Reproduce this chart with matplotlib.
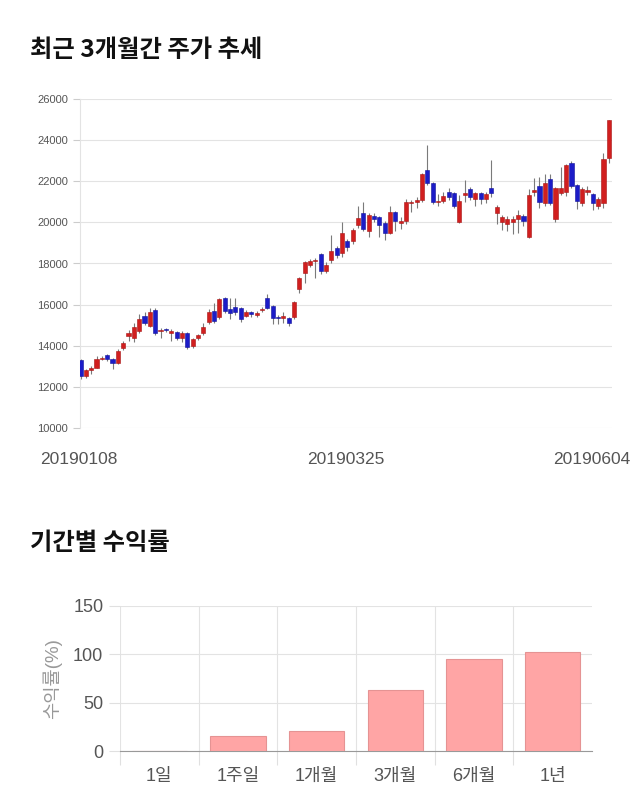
import numpy as np
import matplotlib
matplotlib.use("Agg")
import matplotlib.pyplot as plt

plt.rcParams['font.family'] = ['Liberation Sans', 'Noto Sans CJK KR', 'DejaVu Sans']

# daily candles, 2019-01-08 .. 2019-06-04
opens = [13300, 12550, 12800, 12900, 13350, 13550, 13350, 13150, 13900, 14450,
         14400, 14700, 15450, 14950, 15750, 14700, 14800, 14600, 14650, 14400,
         14600, 14000, 14400, 14600, 15150, 15700, 15400, 16300, 15800, 15900,
         15850, 15450, 15650, 15500, 15750, 16300, 15950, 15400, 15350, 15350,
         15400, 16750, 17550, 17950, 18100, 18450, 17650, 18150, 18750, 18500,
         19100, 19100, 19850, 20450, 19600, 20300, 20250, 19950, 19500, 20500,
         19950, 20050, 20950, 21000, 21100, 22550, 21900, 21000, 21050, 21500,
         21450, 20000, 21350, 21600, 21150, 21450, 21150, 21650, 20450, 20000,
         19900, 20000, 20150, 20300, 19300, 21500, 21750, 20950, 22100, 20150,
         21450, 21500, 22900, 21800, 20950, 21500, 21400, 20800, 20950, 23150]
closes = [12550, 12800, 12900, 13350, 13400, 13350, 13150, 13750, 14150, 14600,
          14900, 15300, 15100, 15650, 14600, 14750, 14750, 14700, 14400, 14600,
          13950, 14350, 14500, 14900, 15650, 15200, 16250, 15700, 15600, 15650,
          15300, 15650, 15550, 15600, 15800, 15850, 15350, 15350, 15450, 15100,
          16150, 17300, 18050, 18100, 18150, 17650, 17950, 18600, 18400, 19500,
          18800, 19650, 20200, 19700, 20350, 20150, 19850, 19500, 20500, 20050,
          20050, 21000, 21000, 21100, 22350, 21900, 21000, 21050, 21300, 21250,
          20800, 21050, 21400, 21250, 21450, 21150, 21400, 21450, 20750, 20250,
          20150, 20150, 20350, 20050, 21350, 21500, 21000, 21900, 20950, 21650,
          21650, 22800, 21750, 21050, 21600, 21500, 20950, 21150, 23100, 25000]
highs = [13350, 12850, 13000, 13500, 13500, 13600, 13400, 13850, 14250, 14750,
         15100, 15550, 15650, 15850, 15850, 14850, 14850, 14800, 14700, 14700,
         14650, 14400, 14550, 15100, 15800, 16100, 16300, 16350, 16300, 16300,
         15900, 15750, 15700, 15700, 15900, 16500, 16000, 15500, 15650, 15400,
         16200, 17350, 18100, 18200, 18250, 18500, 18050, 19400, 18850, 20000,
         19200, 19750, 20800, 21000, 20450, 20450, 20300, 20050, 20800, 20550,
         20250, 21150, 21100, 21250, 22400, 23750, 21950, 21400, 21500, 21650,
         21500, 21350, 22050, 21700, 21500, 21500, 21500, 23050, 20850, 20350,
         20300, 20300, 20600, 20400, 21600, 22150, 22200, 22350, 22350, 21700,
         22700, 22850, 23000, 21850, 21700, 21750, 21450, 21250, 23350, 25000]
lows = [12400, 12450, 12650, 12900, 13300, 13250, 12850, 13100, 13800, 14250,
        14200, 14600, 15000, 14900, 14500, 14400, 14650, 14250, 14300, 14200,
        13850, 13900, 14300, 14500, 15050, 15100, 15300, 15600, 15300, 15500,
        15150, 15400, 15400, 15400, 15650, 15800, 15050, 15050, 15100, 14950,
        15300, 16550, 17050, 17850, 17300, 17500, 17550, 18000, 18250, 18300,
        18600, 18950, 19750, 19600, 19300, 20000, 19300, 19150, 19450, 19600,
        19700, 19900, 20500, 20700, 21000, 21800, 20900, 20800, 20950, 21100,
        20700, 19950, 21000, 21100, 20800, 20900, 20950, 21250, 19900, 19650,
        19600, 19450, 19500, 19800, 19250, 21300, 20700, 20800, 20850, 20000,
        21350, 21300, 21650, 20650, 20800, 21350, 20600, 20650, 20700, 22900]
date_ticks = [0, 50, 99]
date_labels = ['20190108', '20190325', '20190604']

periods = ['1일', '1주일', '1개월', '3개월', '6개월', '1년']
returns = [0, 16, 20.5, 63, 95, 102]

fig = plt.figure(figsize=(6.4, 8.1), dpi=100)

# ---- titles
fig.text(30 / 640, 1 - 50 / 810, '최근 3개월간 주가 추세', fontsize=17.5, fontweight='bold',
         family=['Noto Sans CJK KR'], va='center', ha='left', color='#111111')
fig.text(30 / 640, 1 - 543 / 810, '기간별 수익률', fontsize=17.5, fontweight='bold',
         family=['Noto Sans CJK KR'], va='center', ha='left', color='#111111')

# ---- candlestick chart
ax = fig.add_axes([80 / 640, 1 - 428 / 810, 532 / 640, 329 / 810])
x = np.arange(len(opens))
o = np.array(opens, dtype=float)
c = np.array(closes, dtype=float)
up = c >= o
col = np.where(up, '#d11f1f', '#1c1cc8')
edge = np.where(up, '#a81515', '#12129a')
ax.vlines(x, lows, highs, color='#7a7a7a', lw=0.8, zorder=2)
body = np.maximum(np.abs(c - o), 60)
ax.bar(x, body, bottom=np.minimum(o, c), width=0.78, color=col, edgecolor=edge,
       linewidth=0.4, zorder=3)

ax.set_xlim(-0.1, 99.6)
ax.set_ylim(10000, 26000)
ax.set_yticks(np.arange(10000, 26001, 2000))
ax.tick_params(axis='y', labelsize=8, labelcolor='#555555', color='#cccccc', length=5, width=0.8)
ax.grid(axis='y', color='#e3e3e3', lw=0.8)
ax.set_axisbelow(True)
for s in ['top', 'right', 'bottom']:
    ax.spines[s].set_visible(False)
ax.spines['left'].set_color('#e3e3e3')
ax.set_xticks([])
for i, (t, lab) in enumerate(zip(date_ticks, date_labels)):
    if i == len(date_ticks) - 1:
        ax.annotate(lab, xy=(1.0, 0), xycoords='axes fraction', xytext=(18, -32),
                    textcoords='offset pixels', ha='right', va='center',
                    fontsize=12.5, color='#555555')
    else:
        ax.annotate(lab, xy=(t, 0), xycoords=('data', 'axes fraction'), xytext=(-2, -32),
                    textcoords='offset pixels', ha='center', va='center',
                    fontsize=12.5, color='#555555')

# ---- returns bar chart
bx = fig.add_axes([120 / 640, 1 - 751 / 810, 472 / 640, 145 / 810])
pos = np.arange(len(periods))
bx.bar(pos, returns, width=0.7, color='#ffa5a5', edgecolor='#e59393', linewidth=0.8, zorder=3)
bx.set_xlim(-0.5, len(periods) - 0.5)
bx.set_ylim(0, 150)
bx.set_yticks([0, 50, 100, 150])
bx.set_xticks(pos)
bx.set_xticklabels(periods)
bx.set_xticks(pos - 0.5, minor=True)
bx.tick_params(axis='x', which='major', length=0, pad=12, labelsize=13, labelcolor='#555555')
bx.tick_params(axis='x', which='minor', length=10, color='#e0e0e0', width=0.8)
bx.tick_params(axis='y', labelsize=13, labelcolor='#555555', color='#e0e0e0', length=8, width=0.8, pad=4)
bx.grid(axis='y', color='#e3e3e3', lw=0.8)
bx.grid(axis='x', which='minor', color='#e3e3e3', lw=0.8)
bx.set_axisbelow(True)
for s in ['top', 'right', 'left']:
    bx.spines[s].set_visible(False)
bx.spines['bottom'].set_color('#999999')
bx.set_ylabel('수익률(%)', fontsize=13.5, color='#999999', labelpad=8)

fig.savefig('out.png', dpi=100)
